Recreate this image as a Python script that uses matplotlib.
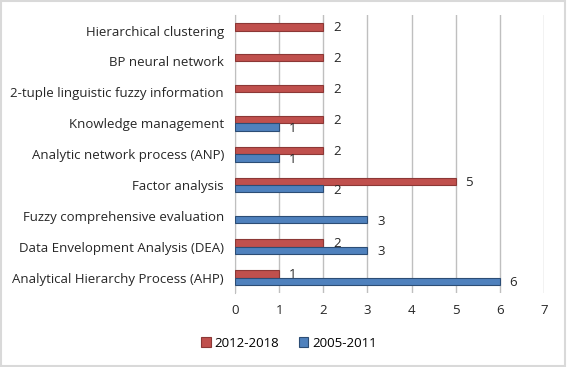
import numpy as np
import matplotlib.pyplot as plt
from matplotlib.patches import Rectangle

# data, bottom to top as drawn
categories = ['Analytical Hierarchy Process (AHP)', 'Data Envelopment Analysis (DEA)',
              'Fuzzy comprehensive evaluation', 'Factor analysis',
              'Analytic network process (ANP)', 'Knowledge management',
              '2-tuple linguistic fuzzy information', 'BP neural network',
              'Hierarchical clustering']
s2012 = [1, 2, 0, 5, 2, 2, 2, 2, 2]
s2005 = [6, 3, 3, 2, 1, 1, 0, 0, 0]

plt.rcParams['font.family'] = ['Open Sans', 'DejaVu Sans']
RED, RED_E = '#C0504D', '#8C3836'
BLUE, BLUE_E = '#4F81BD', '#2C4D75'

fig = plt.figure(figsize=(5.67, 3.67), dpi=100)
ax = fig.add_axes([0.4145, 0.2016, 0.545, 0.757])

y = np.arange(len(categories))
h = 0.24
v12 = np.array(s2012, dtype=float)
v05 = np.array(s2005, dtype=float)
m12 = v12 > 0
m05 = v05 > 0
ax.barh(y[m12] + h / 2, v12[m12], height=h, color=RED, edgecolor=RED_E,
        linewidth=0.8, label='2012-2018', zorder=3)
ax.barh(y[m05] - h / 2, v05[m05], height=h, color=BLUE, edgecolor=BLUE_E,
        linewidth=0.8, label='2005-2011', zorder=3)

for i in y:
    if s2012[i]:
        ax.text(s2012[i] + 0.22, i + h / 2 - 0.03, str(s2012[i]), va='center',
                ha='left', fontsize=9.5, color='#262626')
    if s2005[i]:
        ax.text(s2005[i] + 0.22, i - h / 2 - 0.05, str(s2005[i]), va='center',
                ha='left', fontsize=9.5, color='#262626')

ax.set_xlim(0, 7)
ax.set_ylim(-0.5, len(categories) - 0.5)
ax.set_yticks(y)
ax.set_yticklabels(categories, fontsize=9.5, color='#262626')
ax.set_xticks(range(8))
ax.tick_params(axis='x', labelsize=9.5, colors='#262626', length=0, pad=8)
ax.tick_params(axis='y', length=0, pad=8)
for s in ['top', 'right', 'bottom']:
    ax.spines[s].set_visible(False)
ax.spines['left'].set_color('#BFBFBF')
ax.grid(axis='x', color='#BFBFBF', linewidth=1, zorder=0)

fig.legend(loc='lower center', bbox_to_anchor=(0.51, 0.015), ncol=2, frameon=False,
           fontsize=9.5, handlelength=0.7, handleheight=0.7, columnspacing=1.5,
           handletextpad=0.3)

fig.patches.append(Rectangle((0.002, 0.003), 0.995, 0.993, transform=fig.transFigure,
                             fill=False, edgecolor='#D9D9D9', linewidth=1.5))

fig.savefig('out.png', dpi=100)
